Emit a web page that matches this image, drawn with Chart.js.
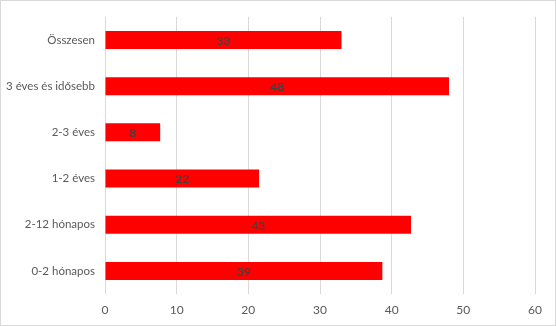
<!DOCTYPE html>
<html>
<head>
<meta charset="utf-8">
<script src="https://cdn.jsdelivr.net/npm/chart.js@4"></script>
<style>
  html, body { margin: 0; padding: 0; background: #fff; }
  #wrap { width: 556px; height: 326px; position: relative; }
</style>
</head>
<body>
<div id="wrap"><canvas id="chart"></canvas></div>
<script>
// Categories (top to bottom) and values
const categories = ['Összesen', '3 éves és idősebb', '2-3 éves', '1-2 éves', '2-12 hónapos', '0-2 hónapos'];
const values = [33.0, 48.0, 7.7, 21.5, 42.7, 38.7];
const xTicks = [0, 10, 20, 30, 40, 50, 60];

const fontFamily = 'Lato, "Open Sans", sans-serif';

// Draws the rounded value in the middle of each bar
const barLabels = {
    id: 'barLabels',
    afterDatasetsDraw(chart) {
        const ctx = chart.ctx;
        const meta = chart.getDatasetMeta(0);
        ctx.save();
        ctx.font = '600 12px ' + fontFamily;
        ctx.fillStyle = '#404040';
        ctx.textAlign = 'center';
        ctx.textBaseline = 'middle';
        meta.data.forEach((bar, i) => {
            const x = (bar.x + bar.base) / 2;
            ctx.fillText(Math.round(values[i]), x, bar.y + 1);
        });
        ctx.restore();
    }
};

// Light frame round the whole chart
const frame = {
    id: 'frame',
    afterDraw(chart) {
        const ctx = chart.ctx;
        ctx.save();
        ctx.strokeStyle = '#d9d9d9';
        ctx.lineWidth = 1;
        ctx.strokeRect(0.5, 0.5, chart.width - 1, chart.height - 1);
        ctx.restore();
    }
};

new Chart(document.getElementById('chart'), {
    type: 'bar',
    data: {
        labels: categories,
        datasets: [{
            data: values,
            backgroundColor: '#ff0000',
            borderWidth: 0,
            categoryPercentage: 1,
            barPercentage: 0.39
        }]
    },
    options: {
        indexAxis: 'y',
        responsive: true,
        maintainAspectRatio: false,
        animation: false,
        layout: { padding: { left: 0, right: 21, top: 14, bottom: 0 } },
        plugins: {
            legend: { display: false },
            tooltip: { enabled: false }
        },
        scales: {
            x: {
                min: 0,
                max: 60,
                afterBuildTicks(axis) {
                    axis.ticks = xTicks.map(v => ({ value: v }));
                },
                afterFit(axis) { axis.height = 32; },
                grid: { color: '#d9d9d9', drawTicks: false },
                border: { display: false },
                ticks: {
                    padding: 9,
                    color: '#595959',
                    font: { family: fontFamily, size: 12 }
                }
            },
            y: {
                afterFit(axis) { axis.width = 105; },
                grid: { display: false, drawTicks: false },
                border: { display: false },
                ticks: {
                    padding: 10,
                    color: '#595959',
                    font: { family: fontFamily, size: 11.5 }
                }
            }
        }
    },
    plugins: [barLabels, frame]
});
</script>
</body>
</html>
